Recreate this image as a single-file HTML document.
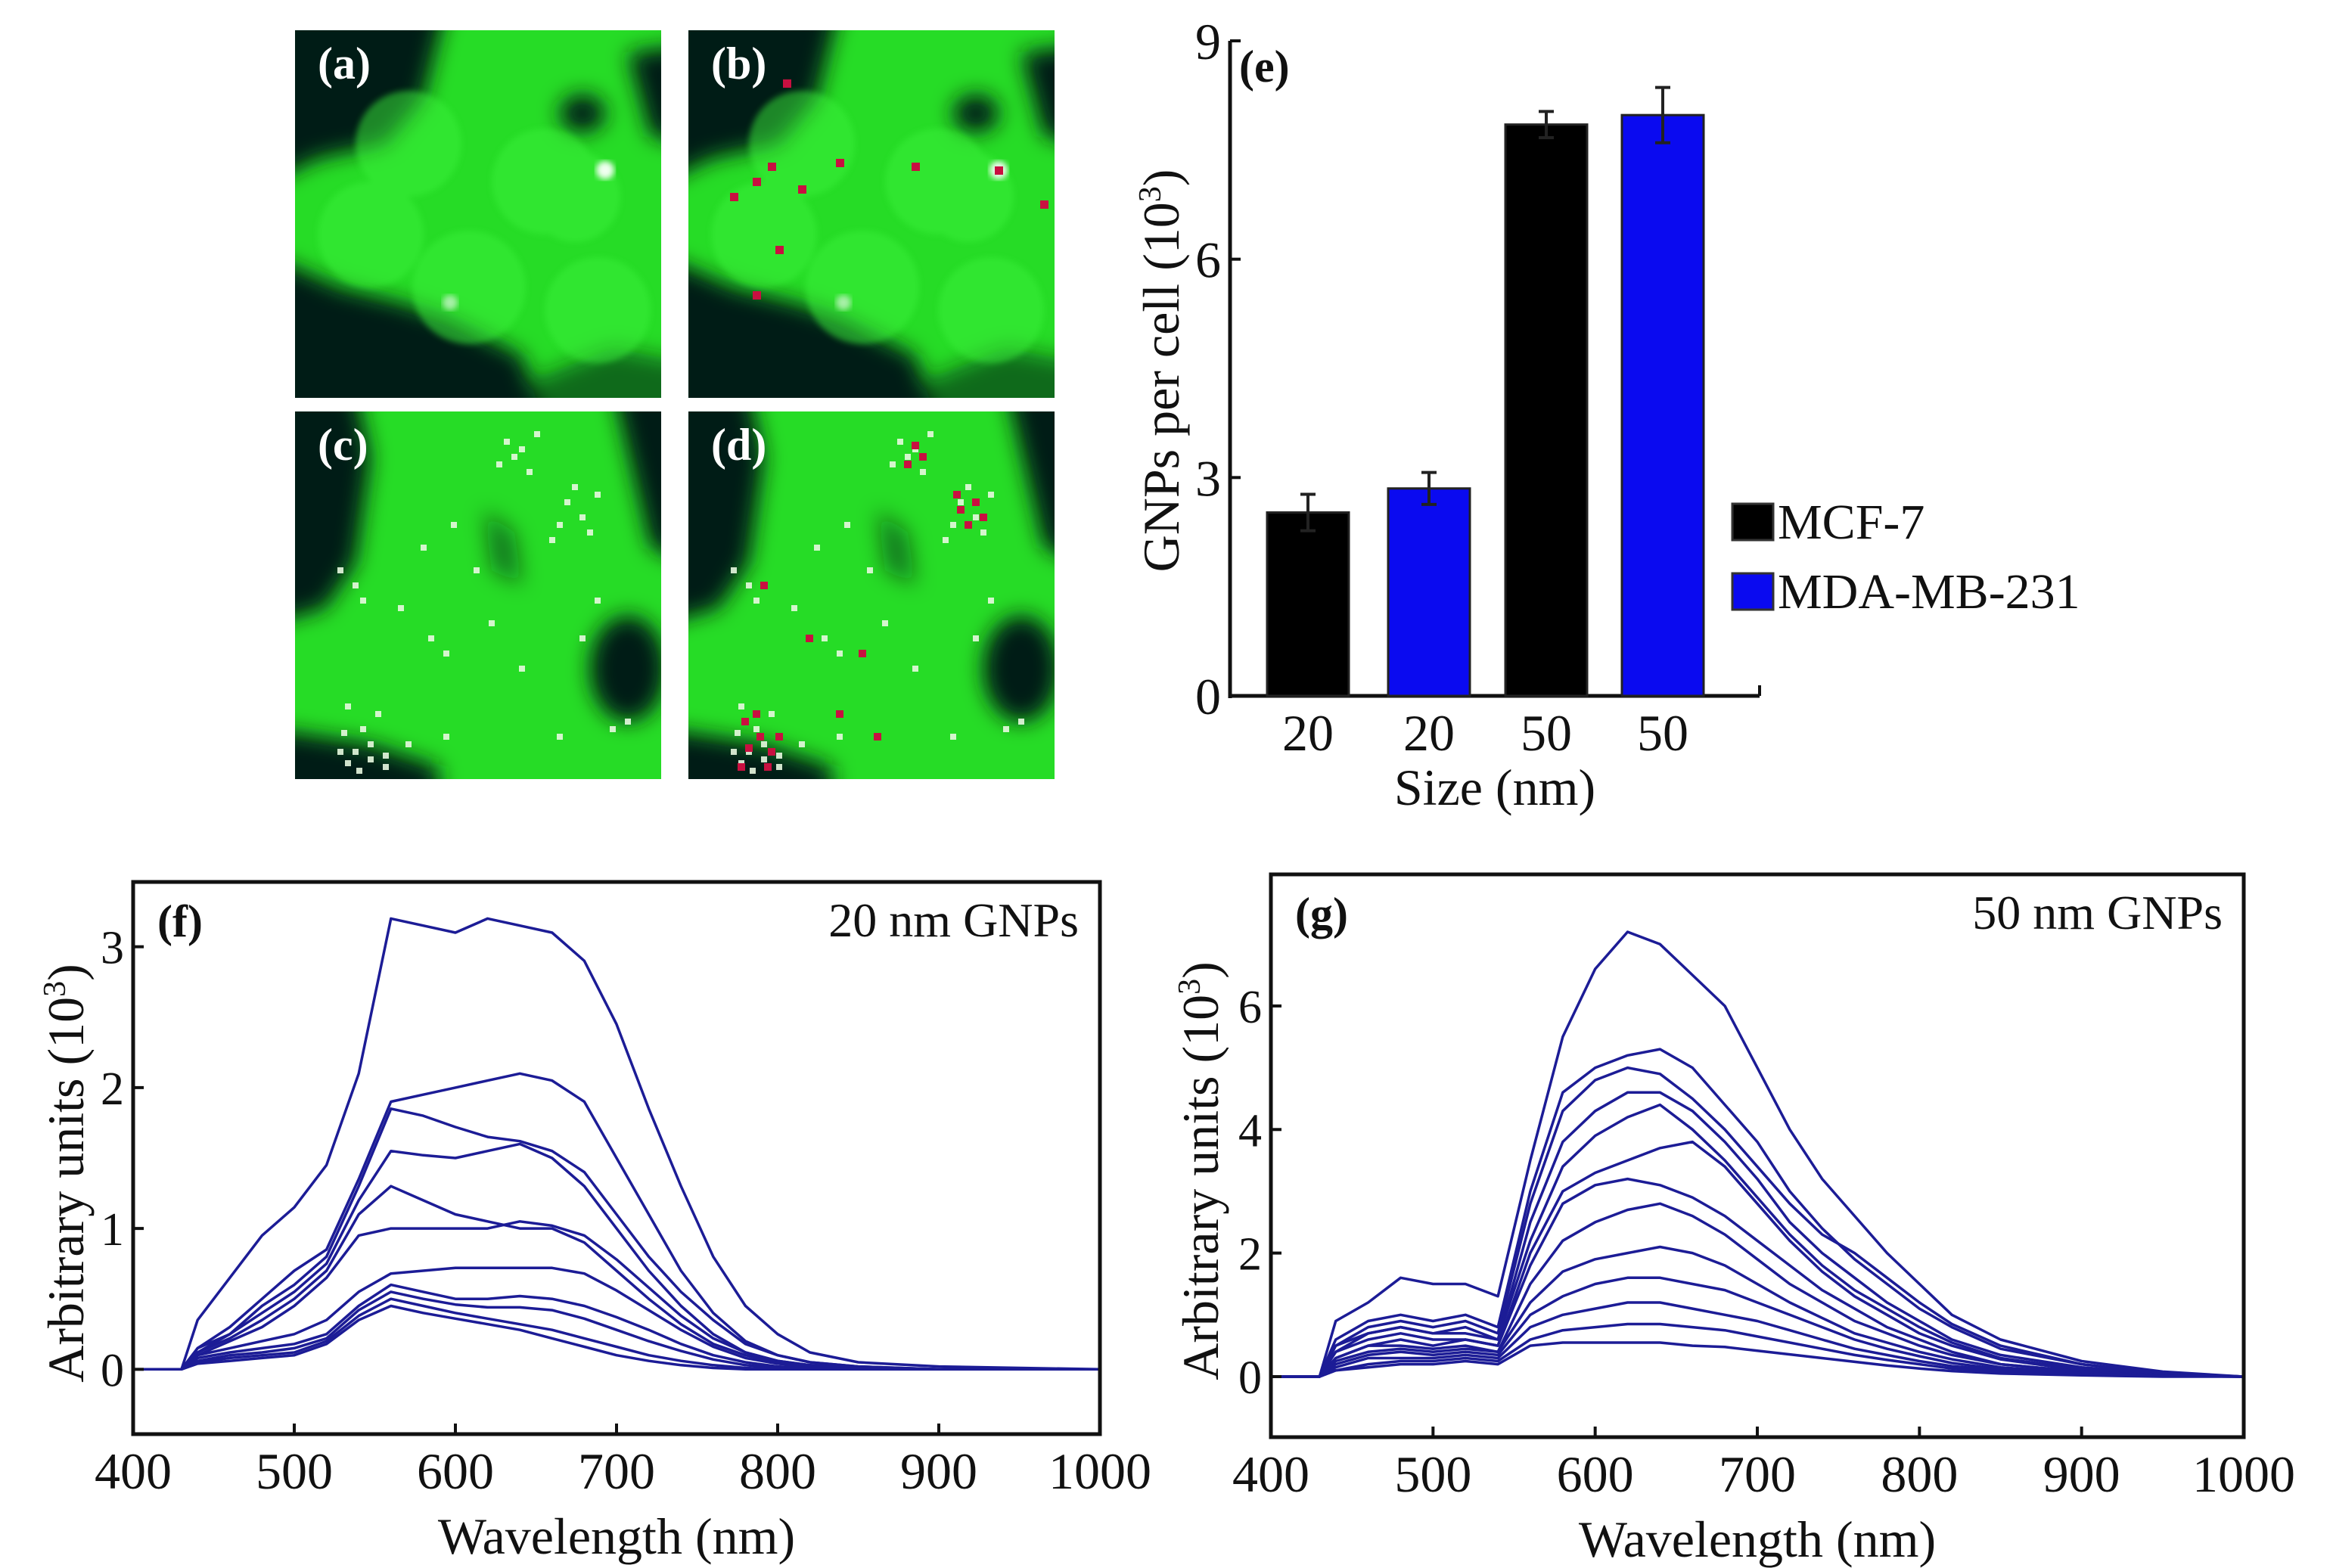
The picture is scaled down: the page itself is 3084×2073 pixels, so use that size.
<!DOCTYPE html>
<html><head><meta charset="utf-8">
<style>
html,body{margin:0;padding:0;background:#fff;}
svg{display:block;}
text{font-family:"Liberation Serif",serif;fill:#111;}
</style></head>
<body>
<svg id="root" width="3084" height="2073" viewBox="0 0 3084 2073" xmlns="http://www.w3.org/2000/svg">
<defs>
<filter id="blur" x="-20%" y="-20%" width="140%" height="140%"><feGaussianBlur stdDeviation="14"/></filter>
<filter id="blur2"><feGaussianBlur stdDeviation="4"/></filter>
<clipPath id="tile"><rect x="0" y="0" width="484" height="486"/></clipPath>
</defs>
<g id="micro"></g>
<g id="chartE"></g>
<g id="chartF"></g>
<g id="chartG"></g>
</svg>
<script>
const NS='http://www.w3.org/2000/svg';
function mk(parent,tag,attrs,txt){const e=document.createElementNS(NS,tag);for(const k in attrs)e.setAttribute(k,attrs[k]);if(txt!==undefined)e.textContent=txt;parent.appendChild(e);return e;}

// ---------- bar chart (e) data ----------
const barCategories=['20','20','50','50'];
const barSeries=['MCF-7','MDA-MB-231','MCF-7','MDA-MB-231'];
const barValues=[2.52,2.85,7.85,7.98];
const barErrors=[0.25,0.22,0.18,0.38];
const barYTicks=[0,3,6,9];
const legendLabels=['MCF-7','MDA-MB-231'];
const legendColors=['#000000','#0a0af0'];

// ---------- spectra (f) ----------
const wlF=[400,430,440,460,480,500,520,540,560,580,600,620,640,660,680,700,720,740,760,780,800,820,850,900,1000];
const specF1=[0,0,0.35,0.65,0.95,1.15,1.45,2.1,3.2,3.15,3.1,3.2,3.15,3.1,2.9,2.45,1.85,1.3,0.8,0.45,0.25,0.12,0.05,0.02,0];
const specF2=[0,0,0.15,0.3,0.5,0.7,0.85,1.35,1.9,1.95,2.0,2.05,2.1,2.05,1.9,1.5,1.1,0.7,0.4,0.2,0.1,0.05,0.02,0,0];
const specF3=[0,0,0.15,0.25,0.45,0.6,0.8,1.3,1.85,1.8,1.72,1.65,1.62,1.55,1.4,1.1,0.8,0.55,0.35,0.18,0.1,0.05,0.02,0,0];
const specF4=[0,0,0.12,0.25,0.4,0.55,0.75,1.2,1.55,1.52,1.5,1.55,1.6,1.5,1.3,1.0,0.7,0.45,0.25,0.12,0.06,0.03,0.01,0,0];
const specF5=[0,0,0.12,0.22,0.35,0.5,0.7,1.1,1.3,1.2,1.1,1.05,1.0,1.0,0.9,0.7,0.5,0.32,0.18,0.1,0.05,0.02,0.01,0,0];
const specF6=[0,0,0.1,0.2,0.3,0.45,0.65,0.95,1.0,1.0,1.0,1.0,1.05,1.02,0.95,0.78,0.58,0.38,0.22,0.12,0.06,0.03,0.01,0,0];
const specF7=[0,0,0.1,0.15,0.2,0.25,0.35,0.55,0.68,0.7,0.72,0.72,0.72,0.72,0.68,0.56,0.42,0.28,0.16,0.08,0.04,0.02,0,0,0];
const specF8=[0,0,0.08,0.12,0.15,0.18,0.25,0.45,0.6,0.55,0.5,0.5,0.52,0.5,0.45,0.37,0.28,0.18,0.1,0.05,0.02,0.01,0,0,0];
const specF9=[0,0,0.06,0.1,0.12,0.15,0.22,0.42,0.55,0.5,0.46,0.44,0.44,0.42,0.36,0.28,0.2,0.13,0.07,0.03,0.01,0,0,0,0];
const specF10=[0,0,0.05,0.08,0.1,0.12,0.2,0.38,0.5,0.45,0.4,0.36,0.32,0.28,0.22,0.16,0.1,0.06,0.03,0.01,0,0,0,0,0];
const specF11=[0,0,0.04,0.06,0.08,0.1,0.18,0.35,0.45,0.4,0.36,0.32,0.28,0.22,0.16,0.1,0.06,0.03,0.01,0,0,0,0,0,0];
const seriesF=[specF1,specF2,specF3,specF4,specF5,specF6,specF7,specF8,specF9,specF10,specF11];
const xTicksSpec=[400,500,600,700,800,900,1000];
const yTicksF=[0,1,2,3];

// ---------- spectra (g) ----------
const wlG=[400,430,440,460,480,500,520,540,560,580,600,620,640,660,680,700,720,740,760,780,800,820,850,900,950,1000];
const specG1=[0,0,0.9,1.2,1.6,1.5,1.5,1.3,3.5,5.5,6.6,7.2,7.0,6.5,6.0,5.0,4.0,3.2,2.6,2.0,1.5,1.0,0.6,0.25,0.08,0];
const specG2=[0,0,0.6,0.9,1.0,0.9,1.0,0.8,3.0,4.6,5.0,5.2,5.3,5.0,4.4,3.8,3.0,2.4,1.9,1.5,1.1,0.8,0.45,0.2,0.06,0];
const specG3=[0,0,0.5,0.8,0.9,0.8,0.9,0.7,2.8,4.3,4.8,5.0,4.9,4.5,4.0,3.4,2.8,2.3,2.0,1.6,1.2,0.85,0.5,0.2,0.06,0];
const specG4=[0,0,0.5,0.7,0.8,0.7,0.8,0.6,2.5,3.8,4.3,4.6,4.6,4.3,3.8,3.2,2.5,2.0,1.6,1.2,0.9,0.6,0.35,0.15,0.05,0];
const specG5=[0,0,0.4,0.7,0.8,0.7,0.7,0.6,2.2,3.4,3.9,4.2,4.4,4.0,3.5,2.9,2.3,1.8,1.4,1.1,0.8,0.55,0.3,0.12,0.04,0];
const specG6=[0,0,0.4,0.6,0.7,0.6,0.6,0.5,2.0,3.0,3.3,3.5,3.7,3.8,3.4,2.8,2.2,1.7,1.3,1.0,0.7,0.5,0.28,0.1,0.03,0];
const specG7=[0,0,0.3,0.5,0.6,0.5,0.6,0.5,1.8,2.8,3.1,3.2,3.1,2.9,2.6,2.2,1.8,1.4,1.1,0.8,0.6,0.4,0.2,0.08,0.02,0];
const specG8=[0,0,0.3,0.5,0.5,0.45,0.5,0.4,1.5,2.2,2.5,2.7,2.8,2.6,2.3,1.9,1.5,1.2,0.9,0.7,0.5,0.35,0.2,0.08,0.02,0];
const specG9=[0,0,0.25,0.4,0.45,0.4,0.45,0.4,1.2,1.7,1.9,2.0,2.1,2.0,1.8,1.5,1.2,0.95,0.7,0.55,0.4,0.28,0.15,0.06,0.02,0];
const specG10=[0,0,0.2,0.35,0.4,0.35,0.4,0.35,1.0,1.3,1.5,1.6,1.6,1.5,1.4,1.2,1.0,0.8,0.6,0.45,0.33,0.22,0.12,0.05,0.01,0];
const specG11=[0,0,0.15,0.3,0.3,0.3,0.35,0.3,0.8,1.0,1.1,1.2,1.2,1.1,1.0,0.9,0.75,0.6,0.45,0.35,0.25,0.17,0.1,0.04,0.01,0];
const specG12=[0,0,0.1,0.2,0.25,0.25,0.3,0.25,0.6,0.75,0.8,0.85,0.85,0.8,0.75,0.65,0.55,0.45,0.35,0.27,0.2,0.13,0.08,0.03,0.01,0];
const specG13=[0,0,0.1,0.15,0.2,0.2,0.25,0.2,0.5,0.55,0.55,0.55,0.55,0.5,0.48,0.42,0.36,0.3,0.24,0.18,0.13,0.09,0.05,0.02,0,0];
const seriesG=[specG1,specG2,specG3,specG4,specG5,specG6,specG7,specG8,specG9,specG10,specG11,specG12,specG13];
const yTicksG=[0,2,4,6];

// ================= microscopy =================
const micro=document.getElementById('micro');
function tile(x,y,label,dense,red){
  const g=mk(micro,'g',{transform:`translate(${x},${y})`,'clip-path':'url(#tile)'});
  
  
  mk(g,'rect',{x:0,y:0,width:484,height:486,fill:'#26dc26'});
  const dg=mk(g,'g',{filter:'url(#blur)',fill:'#041a14'});
  if(!dense){
    mk(dg,'path',{d:'M-30,-30 L200,-30 L170,90 L120,150 L30,170 L-30,200 Z'});
    mk(dg,'path',{d:'M-30,300 L60,340 L140,360 L200,380 L300,430 L330,520 L-30,520 Z'});
    mk(dg,'ellipse',{cx:380,cy:110,rx:30,ry:25});
    mk(dg,'path',{d:'M440,30 L520,20 L520,150 L470,140 Z'});
    mk(dg,'path',{d:'M320,460 L420,420 L520,440 L520,520 L300,520 Z',opacity:0.6});
    const lg=mk(g,'g',{fill:'#3af03a',opacity:0.5,filter:'url(#blur2)'});
    [[150,150,70],[330,200,70],[100,270,70],[230,340,75],[400,370,70],[370,220,60]].forEach(c=>mk(lg,'circle',{cx:c[0],cy:c[1],r:c[2]}));
    mk(g,'circle',{cx:410,cy:185,r:12,fill:'#f0fff0',filter:'url(#blur2)'});
    mk(g,'circle',{cx:205,cy:360,r:10,fill:'#a8f0a8',filter:'url(#blur2)'});
  } else {
    mk(dg,'path',{d:'M-30,-30 L80,-30 L100,60 L80,200 L40,260 L-30,280 Z'});
    mk(dg,'path',{d:'M-30,420 L100,440 L190,470 L190,520 L-30,520 Z'});
    mk(dg,'path',{d:'M420,-30 L520,-30 L520,200 L470,180 Z'});
    mk(dg,'ellipse',{cx:440,cy:340,rx:50,ry:70});
    mk(dg,'path',{d:'M250,130 L290,160 L300,230 L260,210 Z',opacity:0.5});
    const dots=mk(g,'g',{fill:'#e8f8e0'});
    const pts=[[80,450],[100,460],[120,455],[90,420],[70,390],[110,400],[60,450],[100,440],[70,465],[120,470],[85,475],[65,425],
      [280,40],[290,60],[300,50],[270,70],[320,30],[310,80],[360,120],[380,140],[350,150],[370,100],[390,160],[400,110],[340,170],
      [60,210],[80,230],[90,250],[140,260],[180,300],[200,320],[240,210],[260,280],[300,340],[420,420],[440,410],[350,430],[200,430],[150,440],[170,180],[210,150],[400,250],[380,300]];
    pts.forEach(p=>mk(dots,'rect',{x:p[0]-4,y:p[1]-4,width:8,height:8,opacity:0.9}));
    if(red){
      const rg=mk(g,'g',{fill:'#c81040'});
      [[80,445],[95,430],[110,450],[75,410],[105,470],[90,400],[120,430],[70,470],[300,45],[290,70],[310,60],[360,130],[380,120],[370,150],[390,140],[355,110],[100,230],[160,300],[200,400],[250,430],[230,320]]
        .forEach(p=>mk(rg,'rect',{x:p[0]-5,y:p[1]-5,width:10,height:10}));
    }
  }
  if(red && !dense){
    const rg=mk(g,'g',{fill:'#c81040'});
    [[130,70],[60,220],[90,200],[110,180],[150,210],[200,175],[120,290],[90,350],[300,180],[470,230],[410,185]]
      .forEach(p=>mk(rg,'rect',{x:p[0]-5,y:p[1]-5,width:11,height:11}));
  }
  const t=mk(g,'text',{x:30,y:64,'font-size':60,'font-weight':'bold',style:'fill:#ffffff'},label);
  
  
}
tile(390,40,'(a)',false,false);
tile(910,40,'(b)',false,true);
tile(390,544,'(c)',true,false);
tile(910,544,'(d)',true,true);

// ================= bar chart (e) =================
(function(){
  const g=document.getElementById('chartE');
  
  
  const x0=1626,xEnd=2326,yTop=54,yBot=920;
  const vMax=9;
  const yS=v=>yBot-(v/vMax)*(yBot-yTop);
  const barW=108;
  const centers=[1729,1889,2044,2198];
  mk(g,'line',{x1:x0,y1:yTop,x2:x0,y2:yBot+3,stroke:'#111','stroke-width':5});
  mk(g,'line',{x1:x0,y1:yBot,x2:xEnd,y2:yBot,stroke:'#111','stroke-width':5});
  mk(g,'line',{x1:xEnd,y1:yBot,x2:xEnd,y2:yBot-14,stroke:'#111','stroke-width':4});
  barYTicks.forEach(t=>{
    mk(g,'line',{x1:x0,y1:yS(t),x2:x0+14,y2:yS(t),stroke:'#111','stroke-width':4});
    const tx=mk(g,'text',{x:x0-12,y:yS(t)+24,'font-size':68,'text-anchor':'end'},t);
    
    
  });
  barValues.forEach((v,i)=>{
    const c=legendColors[legendLabels.indexOf(barSeries[i])];
    const r=mk(g,'rect',{x:centers[i]-barW/2,y:yS(v),width:barW,height:yBot-yS(v),fill:c,stroke:'#222','stroke-width':3});
    
    
    const e=barErrors[i];
    const eb=mk(g,'path',{d:`M${centers[i]},${yS(v+e)} V${yS(v-e)} M${centers[i]-10},${yS(v+e)} H${centers[i]+10} M${centers[i]-10},${yS(v-e)} H${centers[i]+10}`,stroke:'#222','stroke-width':4,fill:'none'});
    
    
    const tl=mk(g,'text',{x:centers[i],y:992,'font-size':68,'text-anchor':'middle'},barCategories[i]);
    
    
  });
  const xl=mk(g,'text',{x:1976,y:1064,'font-size':68,'text-anchor':'middle'},'Size (nm)');
  
  
  const yl=mk(g,'text',{x:0,y:0,'font-size':68,'text-anchor':'middle',transform:'translate(1558,490) rotate(-90)'});
  
  
  yl.innerHTML='GNPs per cell (10<tspan dy="-24" font-size="42">3</tspan><tspan dy="24">)</tspan>';
  const pl=mk(g,'text',{x:1638,y:108,'font-size':60,'font-weight':'bold'},'(e)');
  
  
  legendLabels.forEach((l,i)=>{
    const y=666+i*92;
    const s=mk(g,'rect',{x:2290,y:y,width:54,height:48,fill:legendColors[i],stroke:'#333','stroke-width':3});
    
    
    const t=mk(g,'text',{x:2350,y:y+46,'font-size':66},l);
    
    
  });
})();

// ================= spectra =================
function spectra(id,box,yMin,yMax,yTicks,wl,series,label,title,yLabX){
  const g=document.getElementById(id);
  
  
  const [L,T,R,B]=box;
  const xS=v=>L+(v-400)/600*(R-L);
  const yS=v=>B-(v-yMin)/(yMax-yMin)*(B-T);
  const lines=mk(g,'g',{fill:'none',stroke:'#1c1c96','stroke-width':3.5,'stroke-linejoin':'round'});
  series.forEach((s,i)=>{
    const d=s.map((v,j)=>(j?'L':'M')+xS(wl[j]).toFixed(1)+','+yS(v).toFixed(1)).join(' ');
    const p=mk(lines,'path',{d:d});
    
    
  });
  const fr=mk(g,'rect',{x:L,y:T,width:R-L,height:B-T,fill:'none',stroke:'#111','stroke-width':5});
  
  
  xTicksSpec.forEach(t=>{
    mk(g,'line',{x1:xS(t),y1:B,x2:xS(t),y2:B-14,stroke:'#111','stroke-width':4});
    const tx=mk(g,'text',{x:xS(t),y:B+72,'font-size':68,'text-anchor':'middle'},t);
    
    
  });
  yTicks.forEach(t=>{
    mk(g,'line',{x1:L,y1:yS(t),x2:L+14,y2:yS(t),stroke:'#111','stroke-width':4});
    const tx=mk(g,'text',{x:L-12,y:yS(t)+22,'font-size':62,'text-anchor':'end'},t);
    
    
  });
  const xl=mk(g,'text',{x:(L+R)/2,y:B+158,'font-size':68,'text-anchor':'middle'},'Wavelength (nm)');
  
  
  const yl=mk(g,'text',{x:0,y:0,'font-size':68,'text-anchor':'middle',transform:`translate(${yLabX},${(T+B)/2+20}) rotate(-90)`});
  
  
  yl.innerHTML='Arbitrary units (10<tspan dy="-24" font-size="42">3</tspan><tspan dy="24">)</tspan>';
  const pl=mk(g,'text',{x:L+32,y:T+72,'font-size':60,'font-weight':'bold'},label);
  
  
  const tt=mk(g,'text',{x:R-28,y:T+72,'font-size':64,'text-anchor':'end'},title);
  
  
}
spectra('chartF',[176,1166,1454,1896],-0.46,3.46,yTicksF,wlF,seriesF,'(f)','20 nm GNPs',110);
spectra('chartG',[1680,1156,2966,1900],-0.98,8.13,yTicksG,wlG,seriesG,'(g)','50 nm GNPs',1610);
</script>
</body></html>
